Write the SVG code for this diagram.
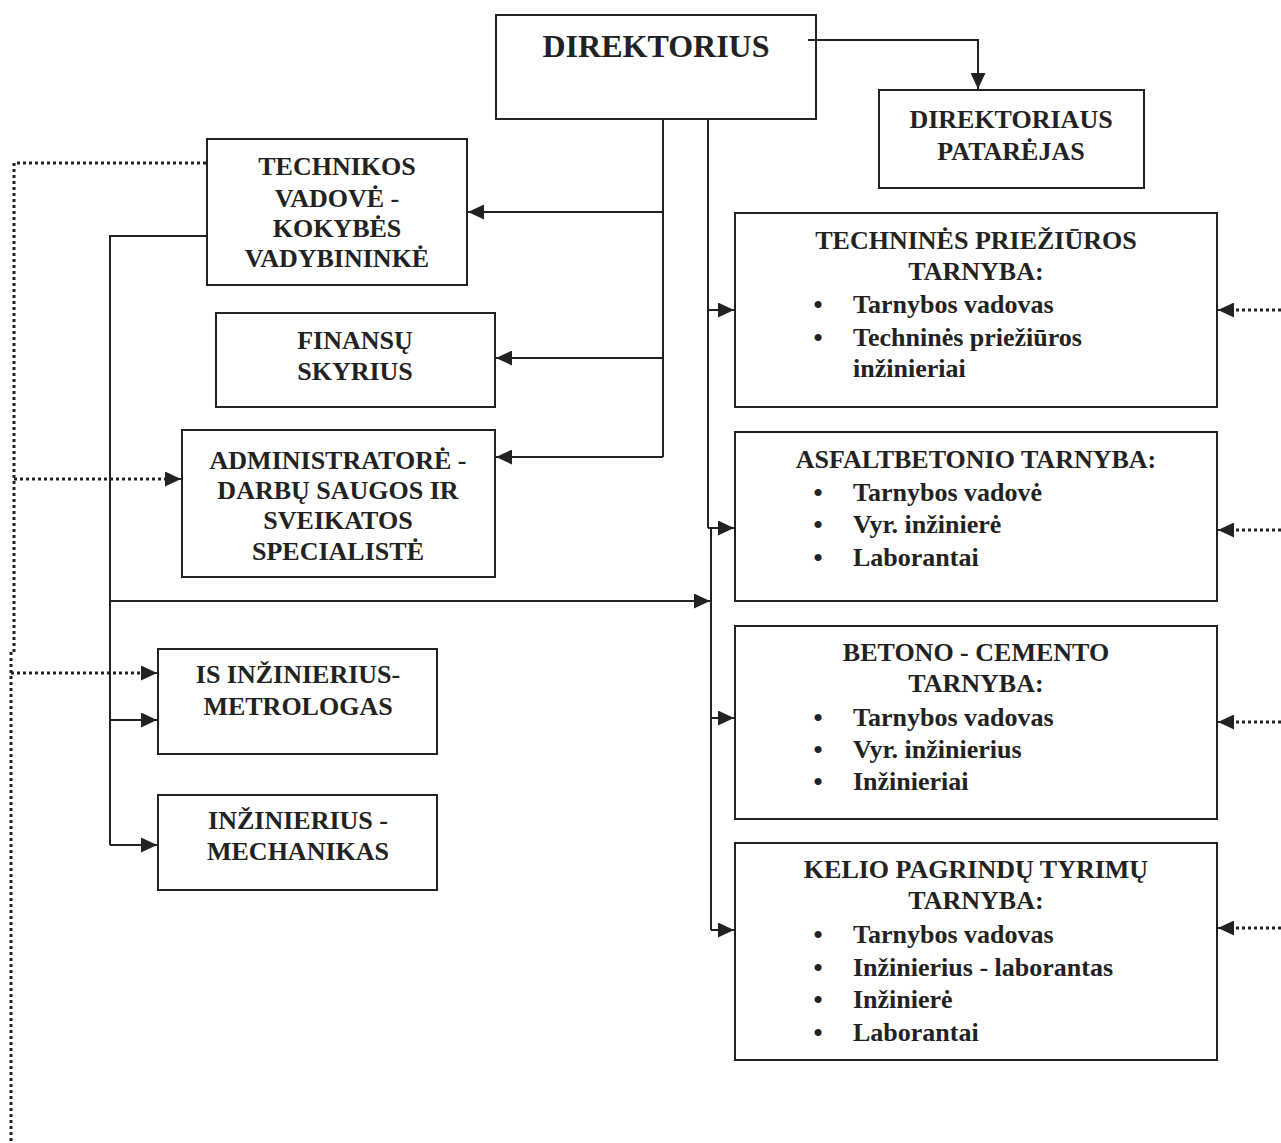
<svg xmlns="http://www.w3.org/2000/svg" width="1281" height="1143" viewBox="0 0 1281 1143">
<style>
.box{fill:#fff;stroke:#222;stroke-width:2}
.t{font-family:"Liberation Serif","Times New Roman",serif;font-weight:bold;font-size:26px;fill:#222}
.c{text-anchor:middle}
.ln{fill:none;stroke:#222;stroke-width:2}
.dt{fill:none;stroke:#222;stroke-width:3;stroke-dasharray:3 3}
</style>
<defs>
<marker id="ah" markerUnits="userSpaceOnUse" markerWidth="17" markerHeight="15" refX="16" refY="7.5" orient="auto">
<path d="M0,0 L16,7.5 L0,15 z" fill="#222"/>
</marker>
</defs>
<rect width="1281" height="1143" fill="#fff"/>
<g id="direktorius">
<rect class="box" x="496" y="15" width="320" height="104"/>
<text class="t c" x="656" y="57" style="font-size:32px">DIREKTORIUS</text>
</g>
<g id="patarejas">
<rect class="box" x="879" y="90" width="265" height="98"/>
<text class="t c" x="1011" y="128">DIREKTORIAUS</text>
<text class="t c" x="1011" y="160">PATARĖJAS</text>
</g>
<g id="technikos">
<rect class="box" x="207" y="139" width="260" height="146"/>
<text class="t c" x="337" y="175">TECHNIKOS</text>
<text class="t c" x="337" y="207">VADOVĖ -</text>
<text class="t c" x="337" y="237">KOKYBĖS</text>
<text class="t c" x="337" y="267">VADYBININKĖ</text>
</g>
<g id="finansu">
<rect class="box" x="216" y="313" width="279" height="94"/>
<text class="t c" x="355" y="349">FINANSŲ</text>
<text class="t c" x="355" y="380">SKYRIUS</text>
</g>
<g id="administratore">
<rect class="box" x="182" y="430" width="313" height="147"/>
<text class="t c" x="338" y="469">ADMINISTRATORĖ -</text>
<text class="t c" x="338" y="499">DARBŲ SAUGOS IR</text>
<text class="t c" x="338" y="529">SVEIKATOS</text>
<text class="t c" x="338" y="560">SPECIALISTĖ</text>
</g>
<g id="is-inzinierius">
<rect class="box" x="158" y="649" width="279" height="105"/>
<text class="t c" x="298" y="683">IS INŽINIERIUS-</text>
<text class="t c" x="298" y="715">METROLOGAS</text>
</g>
<g id="mechanikas">
<rect class="box" x="158" y="795" width="279" height="95"/>
<text class="t c" x="298" y="829">INŽINIERIUS -</text>
<text class="t c" x="298" y="860">MECHANIKAS</text>
</g>
<g id="technines">
<rect class="box" x="735" y="213" width="482" height="194"/>
<text class="t c" x="976" y="249">TECHNINĖS PRIEŽIŪROS</text>
<text class="t c" x="976" y="280">TARNYBA:</text>
<text class="t c" x="818" y="313">•</text><text class="t" x="853" y="313">Tarnybos vadovas</text>
<text class="t c" x="818" y="346">•</text><text class="t" x="853" y="346">Techninės priežiūros</text>
<text class="t" x="853" y="377">inžinieriai</text>
</g>
<g id="asfaltbetonio">
<rect class="box" x="735" y="432" width="482" height="169"/>
<text class="t c" x="976" y="468">ASFALTBETONIO TARNYBA:</text>
<text class="t c" x="818" y="501">•</text><text class="t" x="853" y="501">Tarnybos vadovė</text>
<text class="t c" x="818" y="533">•</text><text class="t" x="853" y="533">Vyr. inžinierė</text>
<text class="t c" x="818" y="566">•</text><text class="t" x="853" y="566">Laborantai</text>
</g>
<g id="betono">
<rect class="box" x="735" y="626" width="482" height="193"/>
<text class="t c" x="976" y="661">BETONO - CEMENTO</text>
<text class="t c" x="976" y="692">TARNYBA:</text>
<text class="t c" x="818" y="726">•</text><text class="t" x="853" y="726">Tarnybos vadovas</text>
<text class="t c" x="818" y="758">•</text><text class="t" x="853" y="758">Vyr. inžinierius</text>
<text class="t c" x="818" y="790">•</text><text class="t" x="853" y="790">Inžinieriai</text>
</g>
<g id="kelio">
<rect class="box" x="735" y="843" width="482" height="217"/>
<text class="t c" x="976" y="878">KELIO PAGRINDŲ TYRIMŲ</text>
<text class="t c" x="976" y="909">TARNYBA:</text>
<text class="t c" x="818" y="943">•</text><text class="t" x="853" y="943">Tarnybos vadovas</text>
<text class="t c" x="818" y="976">•</text><text class="t" x="853" y="976">Inžinierius - laborantas</text>
<text class="t c" x="818" y="1008">•</text><text class="t" x="853" y="1008">Inžinierė</text>
<text class="t c" x="818" y="1041">•</text><text class="t" x="853" y="1041">Laborantai</text>
</g>
<g id="connectors">
<path class="ln" d="M808,40 H978 V89" marker-end="url(#ah)"/>
<path class="ln" d="M663,119 V457"/>
<path class="ln" d="M663,212 H468" marker-end="url(#ah)"/>
<path class="ln" d="M663,358 H496" marker-end="url(#ah)"/>
<path class="ln" d="M663,457 H496" marker-end="url(#ah)"/>
<path class="ln" d="M708,119 V528"/>
<path class="ln" d="M708,310 H734" marker-end="url(#ah)"/>
<path class="ln" d="M708,528 H734" marker-end="url(#ah)"/>
<path class="ln" d="M711,528 V930"/>
<path class="ln" d="M711,718 H734" marker-end="url(#ah)"/>
<path class="ln" d="M711,930 H734" marker-end="url(#ah)"/>
<path class="ln" d="M207,236 H110 V845"/>
<path class="ln" d="M110,601 H710" marker-end="url(#ah)"/>
<path class="ln" d="M110,720 H157" marker-end="url(#ah)"/>
<path class="ln" d="M110,845 H157" marker-end="url(#ah)"/>
<path class="dt" d="M206,163 H14 V652 H11 V1143"/>
<path class="dt" d="M14,479 H166"/>
<path class="ln" d="M166,479 H181" marker-end="url(#ah)"/>
<path class="dt" d="M11,673 H142"/>
<path class="ln" d="M142,673 H157" marker-end="url(#ah)"/>
<path class="dt" d="M1281,310 H1234"/>
<path class="ln" d="M1234,310 H1218" marker-end="url(#ah)"/>
<path class="dt" d="M1281,530 H1234"/>
<path class="ln" d="M1234,530 H1218" marker-end="url(#ah)"/>
<path class="dt" d="M1281,722 H1234"/>
<path class="ln" d="M1234,722 H1218" marker-end="url(#ah)"/>
<path class="dt" d="M1281,928 H1234"/>
<path class="ln" d="M1234,928 H1218" marker-end="url(#ah)"/>
</g>
</svg>
